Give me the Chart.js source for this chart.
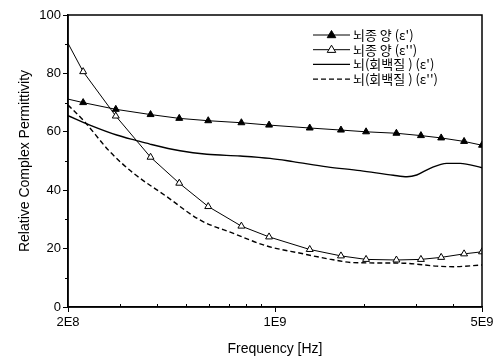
<!DOCTYPE html>
<html>
<head>
<meta charset="utf-8">
<script src="https://cdn.jsdelivr.net/npm/chart.js@4"></script>
<style>
  html, body { margin: 0; padding: 0; background: #fff; }
  #wrap { width: 499px; height: 362px; }
</style>
</head>
<body>
<div id="wrap"><canvas id="myChart" width="499" height="362"></canvas></div>
<script>
// frequency points (Hz) of the tumour measurements
const tumorFreq = [2e8, 2.25e8, 2.9e8, 3.8e8, 4.75e8, 5.95e8, 7.7e8, 9.55e8, 1.31e9, 1.67e9, 2.03e9, 2.57e9, 3.11e9, 3.64e9, 4.35e9, 5e9];
const tumorReal = [71.2, 70.0, 67.7, 65.9, 64.6, 63.8, 63.1, 62.3, 61.3, 60.6, 60.0, 59.5, 58.7, 57.9, 56.7, 55.4];
const tumorImag = [90.3, 80.6, 65.4, 51.3, 42.4, 34.4, 27.7, 24.0, 19.7, 17.5, 16.3, 16.1, 16.3, 17.0, 18.2, 18.9];

// grey matter curves
const grayRealFreq = [2e8, 2.37e8, 2.92e8, 3.41e8, 3.78e8, 4.78e8, 5.89e8, 7.63e8, 9.62e8, 1.15e9, 1.5e9, 1.94e9, 2.51e9, 2.79e9, 3.01e9, 3.34e9, 3.8e9, 4.22e9, 5e9];
const grayReal = [65.5, 62.3, 58.9, 57.0, 55.8, 53.5, 52.3, 51.7, 50.9, 49.8, 48.0, 46.7, 45.1, 44.6, 45.2, 47.5, 49.2, 49.2, 47.7];
const grayImagFreq = [2e8, 2.25e8, 2.77e8, 3.33e8, 4.31e8, 5.58e8, 7.24e8, 9.38e8, 1.22e9, 1.53e9, 1.84e9, 2.71e9, 3.52e9, 4.0e9, 5e9];
const grayImag = [69.2, 64.0, 53.2, 45.8, 37.8, 29.8, 25.2, 20.9, 18.4, 16.4, 15.2, 15.0, 14.0, 13.8, 14.4];

const xTicks = [2e8, 1e9, 5e9];
const xTickLabels = ['2E8', '1E9', '5E9'];
const xMinor = [3e8, 4e8, 5e8, 6e8, 7e8, 8e8, 9e8, 2e9, 3e9, 4e9];
const yMinor = [10, 30, 50, 70, 90];

const legendLabels = ["뇌종 양 (ε')", "뇌종 양 (ε'')", "뇌(회백질 ) (ε')", "뇌(회백질 ) (ε'')"];

const toXY = (xs, ys) => xs.map((x, i) => ({ x: x, y: ys[i] }));
const markerRadius = tumorFreq.map((f, i) => (i === 0 ? 0 : 4));

// frame + minor ticks + legend drawn on top
const framePlugin = {
  id: 'frame',
  afterDraw(chart) {
    const ctx = chart.ctx;
    const a = chart.chartArea;
    const xs = chart.scales.x, ys = chart.scales.y;
    ctx.save();
    ctx.strokeStyle = '#000';
    ctx.lineWidth = 1.5;
    ctx.strokeRect(a.left, a.top, a.right - a.left, a.bottom - a.top);
    ctx.lineWidth = 1;
    ctx.beginPath();
    xMinor.forEach(v => {
      const px = Math.round(xs.getPixelForValue(v)) + 0.5;
      ctx.moveTo(px, a.bottom);
      ctx.lineTo(px, a.bottom - 3);
    });
    yMinor.forEach(v => {
      const py = Math.round(ys.getPixelForValue(v)) + 0.5;
      ctx.moveTo(a.left, py);
      ctx.lineTo(a.left - 3, py);
    });
    ctx.stroke();

    // legend
    const lx = 313, lx2 = 350, ty = 35, dy = 14.7;
    ctx.font = '13px "Noto Sans CJK KR"';
    ctx.textBaseline = 'middle';
    ctx.fillStyle = '#000';
    chart.data.datasets.forEach((ds, i) => {
      const y = ty + i * dy;
      ctx.beginPath();
      ctx.setLineDash(ds.borderDash || []);
      ctx.lineWidth = ds.borderWidth;
      ctx.moveTo(lx, y);
      ctx.lineTo(lx2, y);
      ctx.stroke();
      ctx.setLineDash([]);
      if (ds.pointStyle === 'triangle') {
        const cx = (lx + lx2) / 2, r = 4.5;
        ctx.beginPath();
        ctx.moveTo(cx, y - r);
        ctx.lineTo(cx + r * 0.95, y + r * 0.6);
        ctx.lineTo(cx - r * 0.95, y + r * 0.6);
        ctx.closePath();
        ctx.fillStyle = ds.pointBackgroundColor;
        ctx.fill();
        ctx.lineWidth = 1;
        ctx.stroke();
        ctx.fillStyle = '#000';
      }
      ctx.fillText(legendLabels[i], lx2 + 3, y);
    });
    ctx.restore();
  }
};

new Chart(document.getElementById('myChart').getContext('2d'), {
  type: 'line',
  data: {
    datasets: [{
      data: toXY(tumorFreq, tumorReal),
      borderColor: '#000',
      borderWidth: 1,
      pointStyle: 'triangle',
      pointRadius: markerRadius,
      pointBackgroundColor: '#000',
      pointBorderColor: '#000',
      tension: 0
    }, {
      data: toXY(tumorFreq, tumorImag),
      borderColor: '#000',
      borderWidth: 1,
      pointStyle: 'triangle',
      pointRadius: markerRadius,
      pointBackgroundColor: '#fff',
      pointBorderColor: '#000',
      pointBorderWidth: 1,
      tension: 0
    }, {
      data: toXY(grayRealFreq, grayReal),
      borderColor: '#000',
      borderWidth: 1.4,
      pointRadius: 0,
      cubicInterpolationMode: 'monotone'
    }, {
      data: toXY(grayImagFreq, grayImag),
      borderColor: '#000',
      borderWidth: 1.4,
      borderDash: [5, 3],
      pointRadius: 0,
      cubicInterpolationMode: 'monotone'
    }]
  },
  options: {
    responsive: false,
    animation: false,
    layout: { padding: { top: 15, right: 17, left: 0, bottom: 0 } },
    plugins: {
      legend: { display: false },
      tooltip: { enabled: false }
    },
    scales: {
      x: {
        type: 'logarithmic',
        min: 2e8,
        max: 5e9,
        afterBuildTicks: scale => { scale.ticks = xTicks.map(v => ({ value: v })); },
        afterFit: scale => { scale.height = 55; },
        grid: { drawOnChartArea: false, tickLength: 5, color: '#000' },
        border: { color: '#000', width: 1.5 },
        ticks: {
          color: '#000',
          font: { family: '"Liberation Sans", Arial', size: 13 },
          padding: 3,
          maxRotation: 0,
          autoSkip: false,
          callback: (v) => xTickLabels[xTicks.indexOf(v)]
        },
        title: {
          display: true,
          text: 'Frequency [Hz]',
          color: '#000',
          font: { family: '"Liberation Sans", Arial', size: 14 },
          padding: { top: 6 }
        }
      },
      y: {
        min: 0,
        max: 100,
        afterFit: scale => { scale.width = 68; },
        grid: { drawOnChartArea: false, tickLength: 5, color: '#000' },
        border: { color: '#000', width: 1.5 },
        ticks: {
          stepSize: 20,
          color: '#000',
          font: { family: '"Liberation Sans", Arial', size: 13 },
          padding: 2
        },
        title: {
          display: true,
          text: 'Relative Complex Permittivity',
          color: '#000',
          font: { family: '"Liberation Sans", Arial', size: 14 },
          padding: { top: 17, bottom: 0 }
        }
      }
    }
  },
  plugins: [framePlugin]
});
</script>
</body>
</html>
